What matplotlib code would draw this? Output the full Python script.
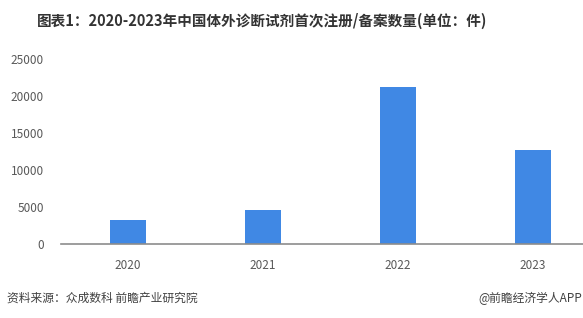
import matplotlib.pyplot as plt
import numpy as np

plt.rcParams['font.family'] = ['Noto Sans CJK SC', 'DejaVu Sans']

years = ['2020', '2021', '2022', '2023']
counts = [3250, 4600, 21250, 12700]
yticks = [0, 5000, 10000, 15000, 20000, 25000]

W, H = 583, 318
fig = plt.figure(figsize=(W / 100, H / 100), dpi=100)
# axes runs past the right edge, like the original crop
ax = fig.add_axes([60.5 / W, 74 / H, 540 / W, 185 / H])

x = np.arange(len(years))
ax.bar(x, counts, width=0.267, color='#4088E4', zorder=2)
ax.set_xlim(-0.5, 3.5)
ax.set_ylim(0, 25000)
ax.set_xticks(x)
ax.set_xticklabels(years)
ax.set_yticks(yticks)
ax.set_yticklabels([str(v) for v in yticks])
ax.tick_params(axis='both', length=0, labelsize=8.5, colors='#595959')
ax.tick_params(axis='y', pad=12)
ax.tick_params(axis='x', pad=11)
for s in ['top', 'right', 'left']:
    ax.spines[s].set_visible(False)
ax.spines['bottom'].set_color('#8c8c8c')
ax.spines['bottom'].set_linewidth(1.2)

fig.text(37 / W, 1 - 21 / H, '图表1：2020-2023年中国体外诊断试剂首次注册/备案数量(单位：件)',
         fontsize=10.5, fontweight='bold', color='#333333', ha='left', va='center')
fig.text(7 / W, 1 - 298 / H, '资料来源：众成数科 前瞻产业研究院',
         fontsize=8.5, color='#404040', ha='left', va='center')
fig.text(582 / W, 1 - 298 / H, '@前瞻经济学人APP',
         fontsize=8.5, color='#404040', ha='right', va='center')

fig.savefig('out.png', dpi=100)
